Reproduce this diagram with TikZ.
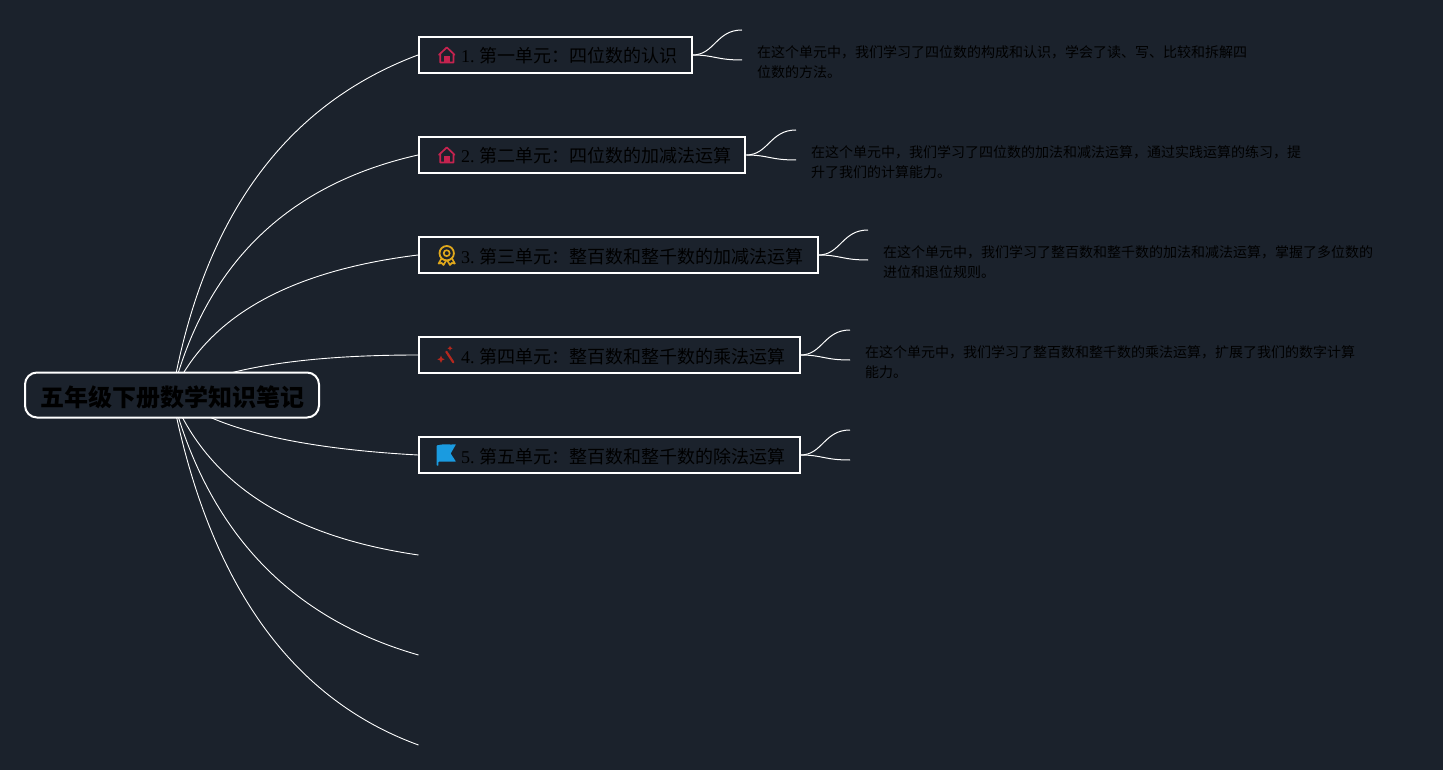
\documentclass[tikz,border=0pt]{standalone}
\usepackage{fontspec}
\usetikzlibrary{calc,backgrounds}
\setmainfont{Liberation Serif}
\newfontfamily\cjk{Noto Sans CJK SC}
\definecolor{bgc}{HTML}{1B222C}
\definecolor{homec}{HTML}{C5234F}
\definecolor{medalc}{HTML}{E0A81C}
\definecolor{wandc}{HTML}{B5281E}
\definecolor{flagc}{HTML}{1A9BE0}
\newcommand{\fwc}{\symbol{"FF1A}}
\newcommand{\fwk}{\symbol{"FF0C}}
\newcommand{\fwd}{\symbol{"3001}}
\newcommand{\fwp}{\symbol{"3002}}
\tikzset{x=1pt,y=-1pt,
 branch/.style={draw=white,line width=0.9pt},
 twig/.style={draw=white,line width=1pt},
 topicbox/.style={draw=white,line width=2pt,fill=bgc,anchor=west,minimum height=36pt,inner sep=0pt,text=black,font=\fontsize{18pt}{20pt}\selectfont,align=left},
 rootbox/.style={draw=white,line width=2pt,rounded corners=12pt,fill=bgc,minimum width=294pt,minimum height=45pt,inner sep=0pt,text=black,font=\cjk\bfseries\fontsize{24pt}{28pt}\selectfont},
 detail/.style={anchor=north west,inner sep=0pt,text=black,font=\cjk\fontsize{14pt}{20pt}\selectfont,align=left},
}
\newcommand{\topicbody}[3]{\makebox[#1pt][l]{\smash{\raisebox{-8pt}{\hspace{42pt}#2\hspace{4.5pt}{\cjk #3}}}}}
\newcommand{\qbranch}[3]{% from, quadratic control, to
  \path[branch] (#1) .. controls ($(#1)!.6667!(#2)$) and ($(#3)!.6667!(#2)$) .. (#3);}
\newcommand{\twigs}[3]{%
  \coordinate (#1a) at (#2,{#3-25});
  \coordinate (#1b) at (#2,{#3+5});
  \path[twig] (#1.east) .. controls +(22,0) and ([xshift=-26pt]#1a) .. (#1a);
  \path[twig] (#1.east) .. controls +(22,0) and ([xshift=-26pt]#1b) .. (#1b);
}
\newcommand{\homeicon}[2]{%
  \begin{scope}[shift={(#1,#2)}]
    \draw[homec,line width=1.7pt,line join=round,line cap=round] (-8,-0.2) -- (-0.2,-7.6) -- (7.6,-0.2) (-6.8,-1) -- (-6.8,7.5) -- (6.4,7.5) -- (6.4,-1);
    \fill[homec] (-3,8) -- (-3,1.5) -- (3,1.5) -- (3,8) -- cycle;
  \end{scope}}
\begin{document}
\begin{tikzpicture}
\useasboundingbox (0,0) rectangle (1443,770);
\coordinate (e6) at (418.5,555);
\coordinate (e7) at (418.5,655);
\coordinate (e8) at (418.5,745);
\coordinate (q1) at (218,130);
\coordinate (q2) at (222,199);
\coordinate (q3) at (223,279);
\coordinate (q4) at (244,355);
\coordinate (q5) at (234,445);
\coordinate (q6) at (225,527);
\coordinate (q7) at (226,600);
\coordinate (q8) at (226,675);
\node[topicbox] (t1) at (418,55) {\topicbody{272.5}{1.}{第一单元\fwc 四位数的认识}};
\node[topicbox] (t2) at (418,155) {\topicbody{326.3}{2.}{第二单元\fwc 四位数的加减法运算}};
\node[topicbox] (t3) at (418,255) {\topicbody{398.5}{3.}{第三单元\fwc 整百数和整千数的加减法运算}};
\node[topicbox] (t4) at (418,355) {\topicbody{380.5}{4.}{第四单元\fwc 整百数和整千数的乘法运算}};
\node[topicbox] (t5) at (418,455) {\topicbody{380.5}{5.}{第五单元\fwc 整百数和整千数的除法运算}};
\node[rootbox] (root) at (172,395) {\smash{\raisebox{-11pt}{\hspace{1pt}五年级下册数学知识笔记}}};
\begin{pgfonlayer}{background}
\fill[bgc] (0,0) rectangle (1443,770);
\qbranch{root.center}{q1}{t1.west}
\qbranch{root.center}{q2}{t2.west}
\qbranch{root.center}{q3}{t3.west}
\qbranch{root.center}{q4}{t4.west}
\qbranch{root.center}{q5}{t5.west}
\qbranch{root.center}{q6}{e6}
\qbranch{root.center}{q7}{e7}
\qbranch{root.center}{q8}{e8}
\end{pgfonlayer}
\twigs{t1}{742}{55}
\twigs{t2}{796}{155}
\twigs{t3}{868}{255}
\twigs{t4}{850}{355}
\twigs{t5}{850}{455}
\node[detail] (d1) at (757,45) {在这个单元中\fwk 我们学习了四位数的构成和认识\fwk 学会了读\fwd 写\fwd 比较和拆解四\\位数的方法\fwp};
\node[detail] (d2) at (811,145) {在这个单元中\fwk 我们学习了四位数的加法和减法运算\fwk 通过实践运算的练习\fwk 提\\升了我们的计算能力\fwp};
\node[detail] (d3) at (883,245) {在这个单元中\fwk 我们学习了整百数和整千数的加法和减法运算\fwk 掌握了多位数的\\进位和退位规则\fwp};
\node[detail] (d4) at (865,345) {在这个单元中\fwk 我们学习了整百数和整千数的乘法运算\fwk 扩展了我们的数字计算\\能力\fwp};
\homeicon{447}{55}
\homeicon{447}{155}
% medal
\begin{scope}[shift={(447,255)}]
  \draw[medalc,line width=1.8pt] (-0.3,-1.8) circle (7.2);
  \draw[medalc,line width=1.6pt] (-0.3,-1.8) circle (3);
  \draw[medalc,line width=1.7pt,line join=round] (-5.5,3.5) -- (-8.3,8.5) -- (-5.3,8) -- (-3.5,10) -- (-0.8,5.5);
  \draw[medalc,line width=1.7pt,line join=round] (5,3.5) -- (7.8,8.5) -- (4.8,8) -- (3,10) -- (0.3,5.5);
\end{scope}
% wand
\begin{scope}[shift={(447,355)}]
  \draw[wandc,line width=2.2pt,line cap=round] (-0.7,-3.3) -- (6.3,7.3);
  \fill[wandc] (-6,0.6) -- (-4.9,3.2) -- (-2.3,4.3) -- (-4.9,5.4) -- (-6,8) -- (-7.1,5.4) -- (-9.7,4.3) -- (-7.1,3.2) -- cycle;
  \fill[wandc] (3,-9.2) -- (3.8,-7.5) -- (5.5,-6.7) -- (3.8,-5.9) -- (3,-4.2) -- (2.2,-5.9) -- (0.5,-6.7) -- (2.2,-7.5) -- cycle;
\end{scope}
% flag
\begin{scope}[shift={(447,455)}]
  \fill[flagc,rounded corners=0.5pt] (-10.3,-9.5) .. controls (-4,-11.5) and (3,-10) .. (9,-10.7) -- (3.7,-1.5) -- (9,6.7) -- (-8.7,6.7) -- (-8.7,10.7) -- (-10.3,10.7) -- cycle;
\end{scope}
\end{tikzpicture}
\end{document}
